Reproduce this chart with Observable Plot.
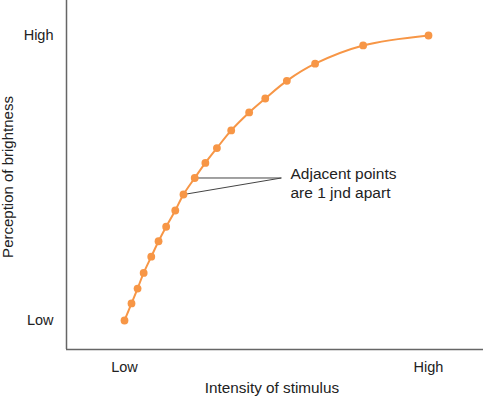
<!DOCTYPE html>
<html>
<head>
<meta charset="utf-8">
<script src="https://cdn.jsdelivr.net/npm/d3@7"></script>
<script src="https://cdn.jsdelivr.net/npm/@observablehq/plot@0.6"></script>
<style>
  html, body { margin: 0; padding: 0; background: #fff; }
  #chart svg { display: block; }
</style>
</head>
<body>
<div id="chart"></div>
<script>
// Data
const stimulus   = [0, 0.023, 0.043, 0.063, 0.088, 0.112, 0.137, 0.167, 0.194, 0.231, 0.266, 0.304, 0.351, 0.410, 0.463, 0.534, 0.627, 0.785, 1];
const perception = [0, 0.060, 0.112, 0.167, 0.224, 0.278, 0.329, 0.386, 0.442, 0.500, 0.553, 0.605, 0.667, 0.730, 0.779, 0.841, 0.901, 0.965, 1];
const tickValues = [0, 1];
const tickLabels = ["Low", "High"];
const xTitle = "Intensity of stimulus";
const yTitle = "Perception of brightness";
const annotationText = "Adjacent points\nare 1 jnd apart";
const annotationIdx = [9, 8];        // the two points the callout lines start from
const annotationJoin = [0.516, 0.5]; // where the callout lines meet
const annotationPos = [0.546, 0.484];

const xDomain = [-0.1908, 1.1809];
const yDomain = [-0.1018, 1.1228];

const pts = stimulus.map((x, i) => ({x, y: perception[i]}));
const links = annotationIdx.map(i => ({x1: stimulus[i], y1: perception[i], x2: annotationJoin[0], y2: annotationJoin[1]}));
const orange = "#f79646";

const chart = Plot.plot({
  width: 483,
  height: 398,
  marginLeft: 66,
  marginRight: 0,
  marginTop: 0,
  marginBottom: 49,
  style: {fontFamily: "'Liberation Sans', Arial, sans-serif", fontSize: "14px", color: "#222", background: "#fff"},
  x: {domain: xDomain},
  y: {domain: yDomain},
  marks: [
    Plot.axisX({ticks: tickValues, tickFormat: (d) => tickLabels[tickValues.indexOf(d)], tickSize: 0, tickPadding: 12, label: null, fontSize: 14.5}),
    Plot.axisY({ticks: tickValues, tickFormat: (d) => tickLabels[tickValues.indexOf(d)], tickSize: 0, tickPadding: 13, label: null, fontSize: 14.5}),
    Plot.ruleX([xDomain[0]], {stroke: "#666", strokeWidth: 1.5}),
    Plot.ruleY([yDomain[0]], {stroke: "#666", strokeWidth: 1.5}),
    Plot.text([xTitle], {frameAnchor: "bottom", textAnchor: "middle", lineAnchor: "middle", dx: -3, dy: 39, fontSize: 15.3, fill: "#222"}),
    Plot.text([yTitle], {frameAnchor: "left", textAnchor: "middle", lineAnchor: "middle", rotate: -90, dx: -58, dy: 2, fontSize: 15, fill: "#222"}),
    Plot.link(links, {x1: "x1", y1: "y1", x2: "x2", y2: "y2", stroke: "#444", strokeWidth: 1}),
    Plot.line(pts, {x: "x", y: "y", stroke: orange, strokeWidth: 2, curve: "catmull-rom"}),
    Plot.dot(pts, {x: "x", y: "y", r: 3.9, fill: orange, stroke: "none"}),
    Plot.text([annotationText], {x: () => annotationPos[0], y: () => annotationPos[1], textAnchor: "start", lineAnchor: "middle", fontSize: 15.5, lineHeight: 1.2, fill: "#222"})
  ]
});
document.getElementById("chart").appendChild(chart);
</script>
</body>
</html>
